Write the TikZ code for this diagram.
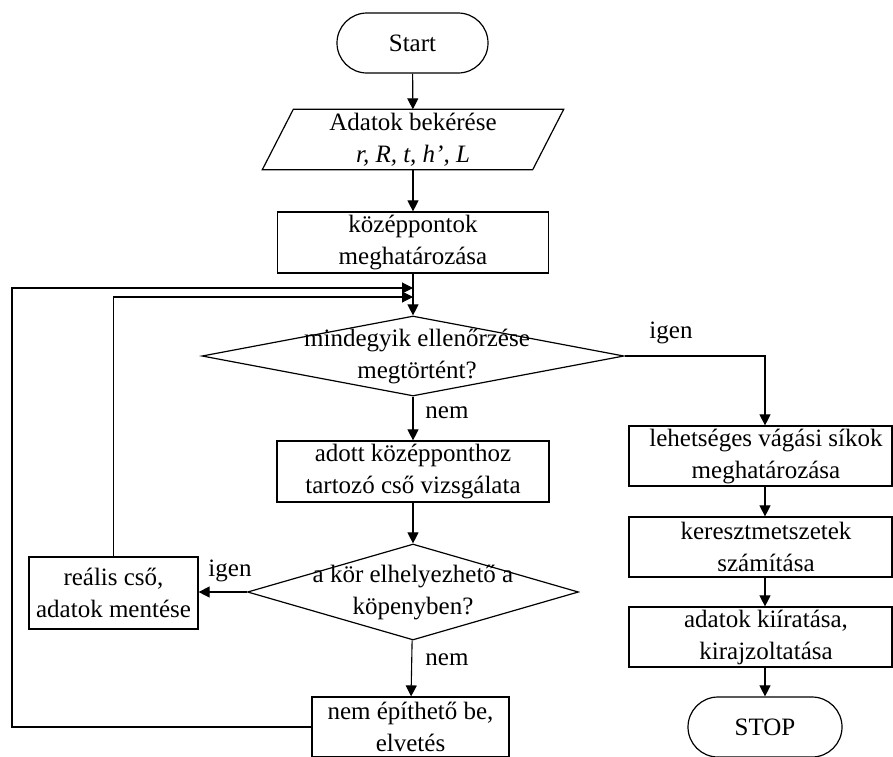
\documentclass[tikz,border=0pt]{standalone}
\usepackage{fontspec}
\setmainfont{Liberation Serif}
\usetikzlibrary{shapes.geometric,arrows.meta,calc}
\begin{document}
\begin{tikzpicture}[x=1pt,y=-1pt,
  every node/.style={font=\fontsize{25}{32}\selectfont, inner sep=0pt, align=center},
  box/.style={draw, rectangle, line width=1.2pt},
  term/.style={draw, rectangle, rounded corners=30pt, line width=1.2pt, minimum height=60pt},
  dia/.style={draw, diamond, line width=1.2pt},
  rbox/.style={box, minimum width=263pt, minimum height=60pt},
  arr/.style={line width=1.1pt, -{Triangle[length=11pt,width=11pt]}},
  ln/.style={line width=1.1pt}]
\useasboundingbox (0,0) rectangle (893,756);
\clip (0,0) rectangle (893,756);

% nodes
\node[term, minimum width=151pt] (start) at (412.5,43) {Start};
\node[minimum width=270pt, minimum height=60pt] (inp) at (413,139.5) {Adatok bekérése\\\textit{r, R, t, h’, L}};
\draw[line width=1.2pt] ([xshift=15.5pt]inp.north west) -- ([xshift=15.5pt]inp.north east)
  -- ([xshift=-15.5pt]inp.south east) -- ([xshift=-15.5pt]inp.south west) -- cycle;
\node[box, minimum width=271pt, minimum height=61pt] (kp) at (413,242.5) {középpontok\\meghatározása};
\node[dia, minimum width=422pt, minimum height=80pt,
  label={[align=center,xshift=4pt]center:mindegyik ellenőrzése\\megtörtént?}] (d1) at (413,356) {};
\node[box, minimum width=272pt, minimum height=61pt] (adott) at (413,471.5) {adott középponthoz\\tartozó cső vizsgálata};
\node[dia, minimum width=331pt, minimum height=96pt,
  label={[align=center]center:a kör elhelyezhető a\\köpenyben?}] (d2) at (413,592) {};
\node[box, minimum width=169pt, minimum height=72pt] (realis) at (113.5,593) {reális cső,\\adatok mentése};
\node[box, minimum width=197pt, minimum height=60pt] (nemep) at (410.5,727) {nem építhető be,\\elvetés};
\node[rbox, label={[xshift=5.5pt,align=center]center:lehetséges vágási síkok\\meghatározása}] (leh) at (760.5,456) {};
\node[rbox, label={[xshift=5.5pt,align=center]center:keresztmetszetek\\számítása}] (ker) at (760.5,547) {};
\node[rbox, label={[xshift=5.5pt,align=center]center:adatok kiíratása,\\kirajzoltatása}] (kiir) at (760.5,637) {};
\node[term, minimum width=154pt] (stop) at (765,727) {STOP};

% labels
\node (l1) at (671,333) {igen};
\node (l2) at (447,413) {nem};
\node (l3) at (230,571) {igen};
\node (l4) at (447,660) {nem};

% junction coordinates
\coordinate (j1) at (413,288);
\coordinate (j2) at (413,297);
\coordinate (lx) at (12,288);

% connectors
\draw[arr] (start) -- (inp);
\draw[arr] (inp) -- (kp);
\draw[arr] (kp) -- (d1);
\draw[arr] (d1) -- (adott);
\draw[arr] (adott) -- (d2);
\draw[arr] (d2.west) -- (realis.east |- d2.west);
\draw[arr] (d2) -- (nemep);
\draw[arr] (realis.north) |- (j2);
\draw[arr] (nemep.west) -| (lx) -- (j1);
\draw[arr] (d1.east) -| (leh.north -| stop.north);
\draw[arr] (leh.south -| stop.north) -- (ker.north -| stop.north);
\draw[arr] (ker.south -| stop.north) -- (kiir.north -| stop.north);
\draw[arr] (kiir.south -| stop.north) -- (stop.north);
\end{tikzpicture}
\end{document}
